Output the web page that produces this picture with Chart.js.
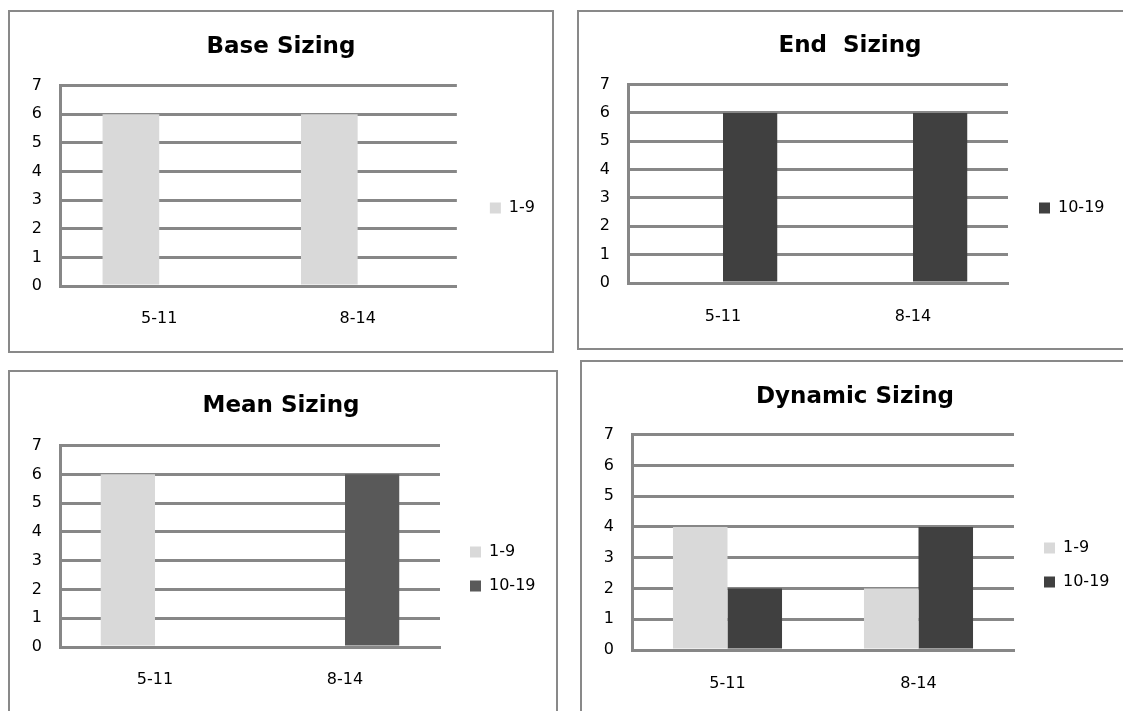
<!DOCTYPE html>
<html lang="en">
<head>
    <meta charset="UTF-8">
    <title>Sizing charts</title>
    <script src="https://cdn.jsdelivr.net/npm/chart.js"></script>
    <style>
        html, body {
            margin: 0;
            padding: 0;
            background: #fff;
            overflow: hidden;
        }
        body {
            width: 1123px;
            height: 711px;
            position: relative;
        }
        .panel {
            position: absolute;
            box-sizing: border-box;
            border: 2px solid #898989;
            background: #fff;
        }
        .panel canvas {
            display: block;
        }
    </style>
</head>
<body>
    <div class="panel" style="left:8px; top:10px; width:546px; height:343px;">
        <canvas id="baseChart" width="542" height="339"></canvas>
    </div>
    <div class="panel" style="left:577px; top:10px; width:570px; height:340px;">
        <canvas id="endChart" width="542" height="336"></canvas>
    </div>
    <div class="panel" style="left:8px; top:370px; width:550px; height:360px;">
        <canvas id="meanChart" width="542" height="356"></canvas>
    </div>
    <div class="panel" style="left:580px; top:360px; width:570px; height:360px;">
        <canvas id="dynamicChart" width="546" height="356"></canvas>
    </div>

    <script>
        // data
        const categories = ['5-11', '8-14'];
        const seriesNames = ['1-9', '10-19'];
        const yTicks = [0, 1, 2, 3, 4, 5, 6, 7];

        const baseLow = [6, 6];
        const baseHigh = [null, null];
        const endLow = [null, null];
        const endHigh = [6, 6];
        const meanLow = [6, null];
        const meanHigh = [null, 6];
        const dynamicLow = [4, 2];
        const dynamicHigh = [2, 4];

        Chart.defaults.font.family = "'DejaVu Sans', sans-serif";
        Chart.defaults.font.size = 16;
        Chart.defaults.color = '#000';

        const gridColor = '#878787';
        const lightColor = '#d9d9d9';

        function makeChart(canvasId, titleText, lowData, highData, highColor, lay) {
            const ctx = document.getElementById(canvasId).getContext('2d');
            return new Chart(ctx, {
                type: 'bar',
                data: {
                    labels: categories,
                    datasets: [
                        { label: seriesNames[0], data: lowData, backgroundColor: lightColor, borderWidth: 0, yAxisID: 'y' },
                        { label: seriesNames[1], data: highData, backgroundColor: highColor, borderWidth: 0, yAxisID: 'y' }
                    ]
                },
                options: {
                    responsive: false,
                    animation: false,
                    events: [],
                    barPercentage: 1,
                    categoryPercentage: 0.571,
                    layout: {
                        padding: { left: lay.side, right: lay.side, top: 0, bottom: 0 }
                    },
                    plugins: {
                        title: {
                            display: true,
                            text: titleText,
                            color: '#000',
                            font: { size: 23, weight: 'bold' },
                            padding: { top: lay.titleTop, bottom: lay.titleBottom }
                        },
                        legend: {
                            position: 'right',
                            // empty legend title only pushes the entries down
                            title: {
                                display: true,
                                text: '',
                                font: { size: 10 },
                                padding: { top: 0, bottom: lay.legendShift - 12 }
                            },
                            labels: {
                                boxWidth: 11,
                                boxHeight: 11,
                                padding: 18,
                                color: '#000',
                                font: { size: 16 },
                                filter: (item, data) => data.datasets[item.datasetIndex].data.some(v => v !== null)
                            }
                        },
                        tooltip: { enabled: false }
                    },
                    scales: {
                        x: {
                            grid: { display: false, drawTicks: false },
                            border: { display: true, color: gridColor, width: 3 },
                            ticks: { padding: lay.xPad, color: '#000', font: { size: 16 } },
                            afterFit: s => { s.height = lay.xHeight; }
                        },
                        y: {
                            min: yTicks[0],
                            max: yTicks[yTicks.length - 1],
                            ticks: { stepSize: 1, padding: 18, color: '#000', font: { size: 16 } },
                            grid: { color: gridColor, lineWidth: 3, drawTicks: false },
                            border: { display: true, color: gridColor, width: 3 },
                            afterFit: s => { s.width = lay.yWidth; }
                        },
                        // blank spacer between plot and legend
                        gap: {
                            position: 'right',
                            display: true,
                            grid: { display: false, drawTicks: false },
                            border: { display: false },
                            ticks: { display: false },
                            afterFit: s => { s.width = lay.gap; }
                        }
                    }
                }
            });
        }

        makeChart('baseChart', 'Base Sizing', baseLow, baseHigh, '#404040',
            { side: 7, gap: 15, yWidth: 43, titleTop: 21, titleBottom: 25, xHeight: 65, xPad: 23, legendShift: 53 });
        makeChart('endChart', 'End  Sizing', endLow, endHigh, '#404040',
            { side: 14.5, gap: 13, yWidth: 34.5, titleTop: 20, titleBottom: 25, xHeight: 65, xPad: 24, legendShift: 56 });
        makeChart('meanChart', 'Mean Sizing', meanLow, meanHigh, '#595959',
            { side: 14.5, gap: 12, yWidth: 35.5, titleTop: 20, titleBottom: 26, xHeight: 81, xPad: 23, legendShift: 38 });
        makeChart('dynamicChart', 'Dynamic Sizing', dynamicLow, dynamicHigh, '#404040',
            { side: 16.5, gap: 12, yWidth: 33.5, titleTop: 21, titleBottom: 24, xHeight: 68, xPad: 24, legendShift: 50 });
    </script>
</body>
</html>
